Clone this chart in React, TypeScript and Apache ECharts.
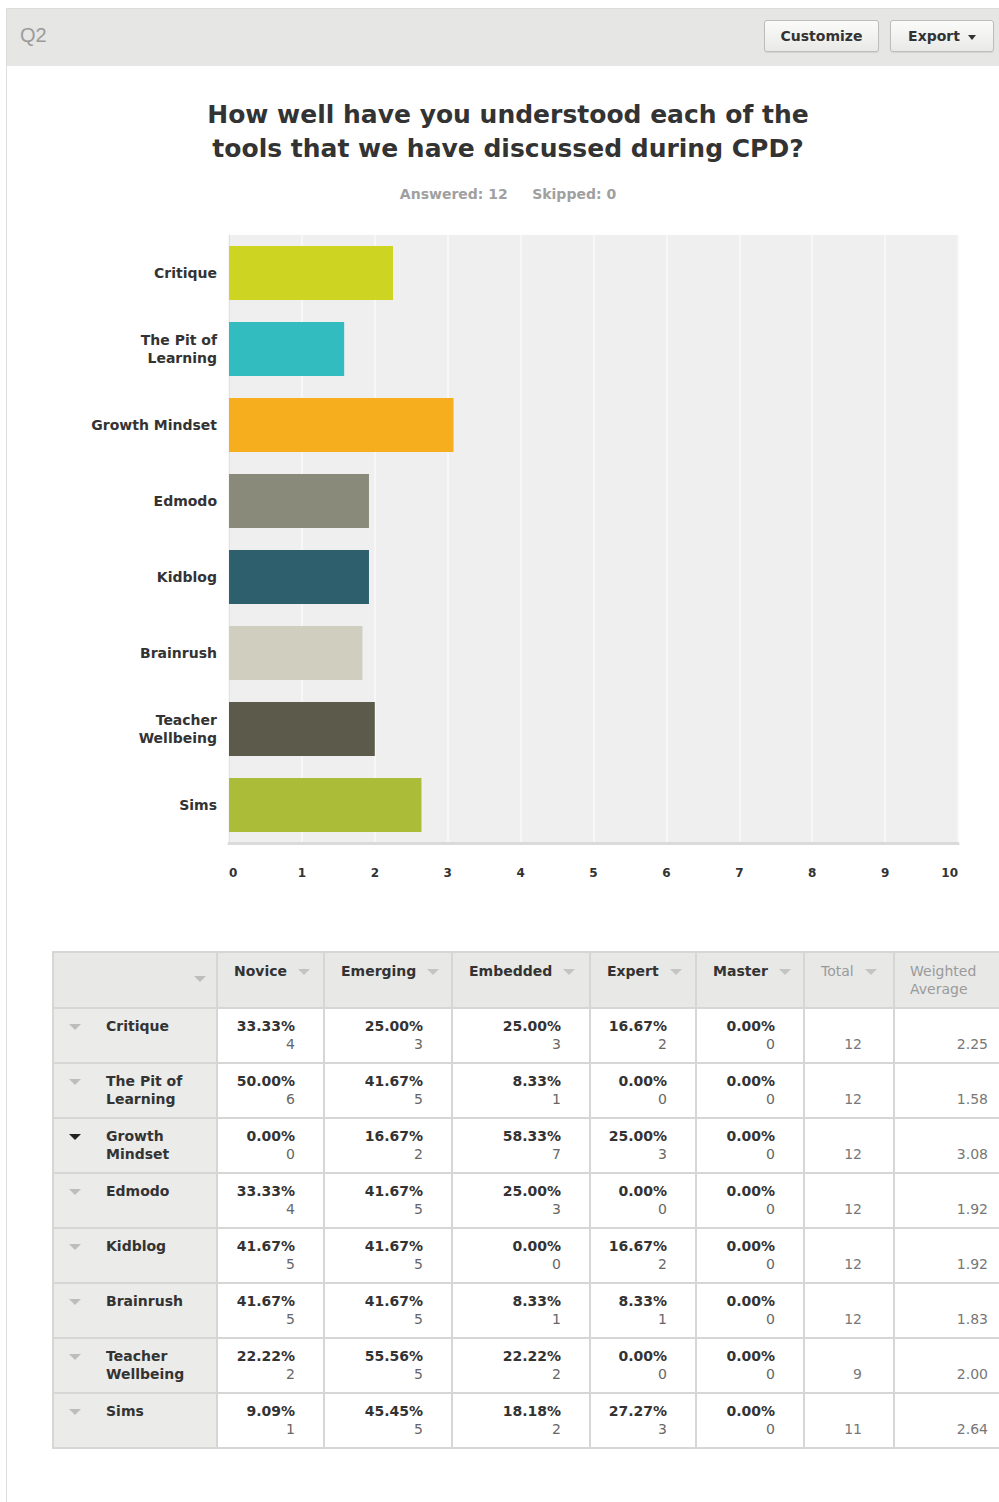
import React, { useEffect, useRef } from "react";
import * as echarts from "echarts";

// ---------- data ----------
const categories = [
  "Critique",
  "The Pit of Learning",
  "Growth Mindset",
  "Edmodo",
  "Kidblog",
  "Brainrush",
  "Teacher Wellbeing",
  "Sims",
];
const chartLabels = [
  "Critique",
  "The Pit of\nLearning",
  "Growth Mindset",
  "Edmodo",
  "Kidblog",
  "Brainrush",
  "Teacher\nWellbeing",
  "Sims",
];
const tableLabels = [
  "Critique",
  "The Pit of\nLearning",
  "Growth\nMindset",
  "Edmodo",
  "Kidblog",
  "Brainrush",
  "Teacher\nWellbeing",
  "Sims",
];
const weightedAverages = [2.25, 1.58, 3.08, 1.92, 1.92, 1.83, 2.0, 2.64];
const barColors = [
  "#cdd422",
  "#32bcbf",
  "#f6ae1f",
  "#898a79",
  "#2d5f6c",
  "#cfcebf",
  "#5c5a4b",
  "#abbd38",
];
const columnNames = ["Novice", "Emerging", "Embedded", "Expert", "Master"];
const novicePct = ["33.33%", "50.00%", "0.00%", "33.33%", "41.67%", "41.67%", "22.22%", "9.09%"];
const noviceCnt = [4, 6, 0, 4, 5, 5, 2, 1];
const emergingPct = ["25.00%", "41.67%", "16.67%", "41.67%", "41.67%", "41.67%", "55.56%", "45.45%"];
const emergingCnt = [3, 5, 2, 5, 5, 5, 5, 5];
const embeddedPct = ["25.00%", "8.33%", "58.33%", "25.00%", "0.00%", "8.33%", "22.22%", "18.18%"];
const embeddedCnt = [3, 1, 7, 3, 0, 1, 2, 2];
const expertPct = ["16.67%", "0.00%", "25.00%", "0.00%", "16.67%", "8.33%", "0.00%", "27.27%"];
const expertCnt = [2, 0, 3, 0, 2, 1, 0, 3];
const masterPct = ["0.00%", "0.00%", "0.00%", "0.00%", "0.00%", "0.00%", "0.00%", "0.00%"];
const masterCnt = [0, 0, 0, 0, 0, 0, 0, 0];
const totals = [12, 12, 12, 12, 12, 12, 9, 11];
const weightedText = ["2.25", "1.58", "3.08", "1.92", "1.92", "1.83", "2.00", "2.64"];
const expandedRow = 2;

const pctColumns = [novicePct, emergingPct, embeddedPct, expertPct, masterPct];
const cntColumns = [noviceCnt, emergingCnt, embeddedCnt, expertCnt, masterCnt];

const FONT = "'DejaVu Sans', 'Liberation Sans', Arial, sans-serif";

const Tri = ({ color, style }: { color: string; style?: React.CSSProperties }) => (
  <span
    style={{
      display: "inline-block",
      width: 0,
      height: 0,
      borderLeft: "6px solid transparent",
      borderRight: "6px solid transparent",
      borderTop: `6px solid ${color}`,
      ...style,
    }}
  />
);

const Chart = () => {
  const ref = useRef<HTMLDivElement>(null);
  useEffect(() => {
    if (!ref.current) return;
    const chart = echarts.init(ref.current, undefined, { renderer: "svg" });
    chart.setOption({
      animation: false,
      title: {
        text: "How well have you understood each of the\ntools that we have discussed during CPD?",
        subtext: "Answered: 12\u00a0\u00a0\u00a0\u00a0\u00a0Skipped: 0",
        left: 508,
        top: 31,
        padding: 0,
        textAlign: "center",
        itemGap: 20,
        textStyle: {
          fontFamily: FONT,
          fontSize: 25,
          fontWeight: "bold",
          color: "#333333",
          lineHeight: 34,
        },
        subtextStyle: {
          fontFamily: FONT,
          fontSize: 14,
          fontWeight: "bold",
          color: "#a0a0a0",
          lineHeight: 18,
        },
      },
      grid: {
        left: 229,
        top: 169,
        width: 729,
        height: 608,
        show: true,
        backgroundColor: "#efefef",
        borderWidth: 0,
      },
      xAxis: {
        type: "value",
        min: 0,
        max: 10,
        interval: 1,
        axisLine: { show: true, lineStyle: { color: "#dadada", width: 3 } },
        axisTick: { show: false },
        splitLine: { show: true, lineStyle: { color: "#f7f7f7", width: 2 } },
        axisLabel: {
          margin: 24,
          fontFamily: FONT,
          fontSize: 12,
          fontWeight: "bold",
          color: "#333333",
          alignMinLabel: "left",
          alignMaxLabel: "right",
        },
      },
      yAxis: {
        type: "category",
        data: chartLabels,
        inverse: true,
        axisTick: { show: false },
        axisLine: { show: true, lineStyle: { color: "#e2e2e2", width: 1 } },
        axisLabel: {
          margin: 12,
          fontFamily: FONT,
          fontSize: 14,
          fontWeight: "bold",
          color: "#333333",
          lineHeight: 18,
          align: "right",
        },
      },
      series: [
        {
          type: "bar",
          name: "Weighted Average",
          barCategoryGap: "29%",
          data: weightedAverages.map((v, i) => ({
            value: v,
            name: categories[i],
            itemStyle: { color: barColors[i] },
          })),
        },
      ],
    });
    return () => chart.dispose();
  }, []);
  return (
    <div
      ref={ref}
      style={{ position: "absolute", left: 0, top: 66, width: 999, height: 850 }}
    />
  );
};

const colWidths = [164, 107, 128, 138, 106, 108, 90, 122];
const border = "2px solid #d6d6d6";

const DataTable = () => {
  const headerBg = "#e8e8e7";
  return (
    <table
      style={{
        position: "absolute",
        left: 52,
        top: 951,
        borderCollapse: "collapse",
        tableLayout: "fixed",
        width: colWidths.reduce((a, b) => a + b, 0),
        fontFamily: FONT,
        fontSize: 14,
        lineHeight: "18px",
      }}
    >
      <colgroup>
        {colWidths.map((w, i) => (
          <col key={i} style={{ width: w }} />
        ))}
      </colgroup>
      <thead>
        <tr style={{ height: 56 }}>
          <th style={{ border, background: headerBg, padding: 0, verticalAlign: "top", textAlign: "right" }}>
            <div style={{ paddingTop: 15, paddingRight: 10 }}>
              <Tri color="#bdbdbd" />
            </div>
          </th>
          {columnNames.map((c) => (
            <th
              key={c}
              style={{ border, background: headerBg, padding: 0, verticalAlign: "top", textAlign: "left" }}
            >
              <div style={{ paddingTop: 9, paddingLeft: 16, color: "#333", fontWeight: "bold", whiteSpace: "nowrap" }}>
                {c}
                <Tri color="#c4c4c4" style={{ marginLeft: 11, verticalAlign: "middle" }} />
              </div>
            </th>
          ))}
          <th style={{ border, background: headerBg, padding: 0, verticalAlign: "top", textAlign: "left" }}>
            <div style={{ paddingTop: 9, paddingLeft: 16, color: "#9a9a9a", fontWeight: "normal", whiteSpace: "nowrap" }}>
              Total
              <Tri color="#c4c4c4" style={{ marginLeft: 11, verticalAlign: "middle" }} />
            </div>
          </th>
          <th style={{ border, background: headerBg, padding: 0, verticalAlign: "top", textAlign: "left" }}>
            <div style={{ paddingTop: 9, paddingLeft: 15, color: "#9a9a9a", fontWeight: "normal", position: "relative" }}>
              Weighted
              <br />
              Average
              <Tri color="#c4c4c4" style={{ position: "absolute", left: 104, top: 16 }} />
            </div>
          </th>
        </tr>
      </thead>
      <tbody>
        {categories.map((cat, r) => (
          <tr key={cat} style={{ height: 55 }}>
            <td style={{ border, background: "#ebebea", padding: 0, verticalAlign: "top" }}>
              <div style={{ position: "relative", paddingTop: 8, paddingLeft: 52 }}>
                <Tri
                  color={r === expandedRow ? "#222" : "#bdbdbd"}
                  style={{ position: "absolute", left: 15, top: 15 }}
                />
                <div style={{ whiteSpace: "pre-line", fontWeight: "bold", color: "#333" }}>{tableLabels[r]}</div>
              </div>
            </td>
            {pctColumns.map((col, c) => (
              <td key={c} style={{ border, background: "#fff", padding: 0, verticalAlign: "top" }}>
                <div style={{ paddingTop: 8, paddingRight: 28, textAlign: "right" }}>
                  <div style={{ fontWeight: "bold", color: "#333" }}>{col[r]}</div>
                  <div style={{ color: "#666" }}>{cntColumns[c][r]}</div>
                </div>
              </td>
            ))}
            <td style={{ border, background: "#fff", padding: 0, verticalAlign: "top" }}>
              <div style={{ paddingTop: 26, paddingRight: 31, textAlign: "right", color: "#777" }}>{totals[r]}</div>
            </td>
            <td style={{ border, background: "#fff", padding: 0, verticalAlign: "top" }}>
              <div style={{ paddingTop: 26, paddingRight: 27, textAlign: "right", color: "#777" }}>
                {weightedText[r]}
              </div>
            </td>
          </tr>
        ))}
      </tbody>
    </table>
  );
};

const Button = ({ left, width, children }: { left: number; width: number; children: React.ReactNode }) => (
  <div
    style={{
      position: "absolute",
      left,
      top: 20,
      width,
      height: 32,
      boxSizing: "border-box",
      border: "1px solid #bdbdbb",
      borderRadius: 3,
      background: "linear-gradient(#fbfbfa, #e9e9e7)",
      boxShadow: "0 1px 1px rgba(0,0,0,0.08)",
      fontFamily: FONT,
      fontSize: 14,
      fontWeight: "bold",
      color: "#333",
      display: "flex",
      alignItems: "center",
      justifyContent: "center",
    }}
  >
    {children}
  </div>
);

export default function App() {
  return (
    <div
      style={{
        position: "absolute",
        left: 0,
        top: 0,
        width: 999,
        height: 1502,
        background: "#fff",
        overflow: "hidden",
      }}
    >
      {/* card outline */}
      <div
        style={{
          position: "absolute",
          left: 6,
          top: 8,
          width: 1010,
          height: 1600,
          borderLeft: "1px solid #dcdcdc",
          borderTop: "1px solid #dcdcdc",
        }}
      />
      {/* header bar */}
      <div
        style={{
          position: "absolute",
          left: 7,
          top: 9,
          width: 1000,
          height: 57,
          background: "#e6e6e4",
        }}
      />
      <div
        style={{
          position: "absolute",
          left: 20,
          top: 24,
          fontFamily: "'Liberation Sans', Arial, sans-serif",
          fontSize: 20,
          color: "#9b9b9b",
        }}
      >
        Q2
      </div>
      <Button left={764} width={115}>
        Customize
      </Button>
      <Button left={890} width={104}>
        <span>Export</span>
        <Tri color="#333" style={{ marginLeft: 8, marginTop: 3, borderLeftWidth: 4, borderRightWidth: 4, borderTopWidth: 5 }} />
      </Button>
      <Chart />
      <DataTable />
    </div>
  );
}
